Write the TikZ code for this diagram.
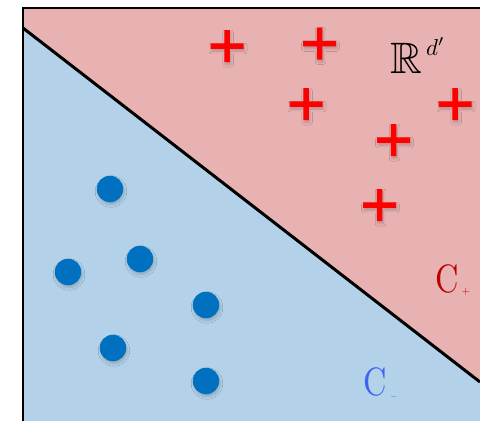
\documentclass[tikz,border=0pt]{standalone}
\usepackage{amssymb}
\usetikzlibrary{shadows.blur}
\definecolor{pinkbg}{RGB}{233,178,178}
\definecolor{bluebg}{RGB}{179,210,234}
\definecolor{dotblue}{RGB}{0,112,192}
\definecolor{plusred}{RGB}{255,0,0}
\definecolor{cplus}{RGB}{192,0,0}
\definecolor{cminus}{RGB}{60,100,240}
\tikzset{
  softshadow/.style={blur shadow={shadow xshift=1pt,shadow yshift=-2.5pt,shadow blur steps=8,shadow blur radius=2.5pt,shadow opacity=20}},
  dot/.style={circle,fill=dotblue,minimum size=26.5pt,inner sep=0pt,softshadow},
  plusmark/.pic={\fill[plusred,softshadow] (-16.5,-2.75) rectangle (16.5,2.75) (-2.75,-16) rectangle (2.75,16);},
  frameline/.style={line width=2pt},
  divider/.style={line width=3pt},
  lbl/.style={inner sep=0pt,anchor=base west}
}
\begin{document}
\begin{tikzpicture}[x=1pt,y=-1pt]
\useasboundingbox (0,0) rectangle (480,423);
\coordinate (tl) at (23,8);
\coordinate (tr) at (480,8);
\coordinate (bl) at (23,421);
\coordinate (br) at (480,421);
\coordinate (dl) at (23,28);
\coordinate (dr) at (480,382);
\fill[pinkbg] (tl) -- (tr) -- (dr) -- (dl) -- cycle;
\fill[bluebg] (dl) -- (dr) -- (br) -- (bl) -- cycle;
\draw[divider] (dl) -- (dr);
\draw[frameline] (bl) -- (tl) -- (tr);
% blue dots
\node[dot] (a1) at (110,189) {};
\node[dot] (a2) at (140,259) {};
\node[dot] (a3) at (68,272) {};
\node[dot] (a4) at (206,305) {};
\node[dot] (a5) at (113,348) {};
\node[dot] (a6) at (206,381) {};
% red pluses
\pic at (227,46) {plusmark};
\pic at (319.5,43.5) {plusmark};
\pic at (306,104) {plusmark};
\pic at (455,104) {plusmark};
\pic at (393.5,140) {plusmark};
\pic at (379.5,205) {plusmark};
% labels
\node[lbl] (R) at (390,74) {\scalebox{4.4}{$\mathbb{R}$}};
\node[lbl] (dp) at (426,55) {\scalebox{2.3}{$d'$}};
\node[lbl,text=cplus] (cp) at (435,292) {\scalebox{3.24}[3.95]{C}};
\node[inner sep=0pt,text=cplus] (cps) at (466,292) {\scalebox{1.1}{$+$}};
\node[lbl,text=cminus] (cm) at (363,395) {\scalebox{3.24}[3.95]{C}};
\node[inner sep=0pt,text=cminus] (cms) at (393.5,397) {\scalebox{0.9}{$-$}};
\end{tikzpicture}
\end{document}
